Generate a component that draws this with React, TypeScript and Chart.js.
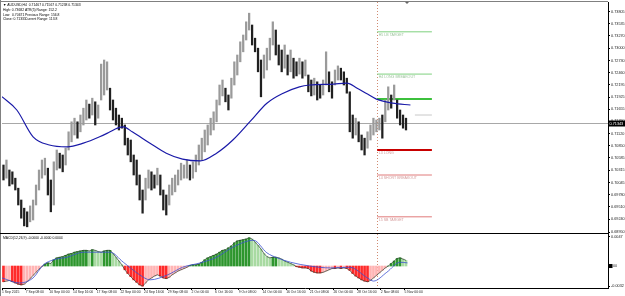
import React, { useEffect, useRef } from "react";
import { Chart, registerables } from "chart.js";
Chart.register(...registerables);

const FONT = "'Liberation Sans', Arial, sans-serif";

// ---- price data (2 H4 bars per element) ----
const candleHigh = [
  0.7043, 0.7054, 0.7032, 0.7028, 0.7014, 0.6992, 0.6966, 0.6948, 0.6940, 0.6953,
  0.6966, 0.6999, 0.7032, 0.7054, 0.7058, 0.7036, 0.7010, 0.7050, 0.7076, 0.7069,
  0.7065, 0.7080, 0.7116, 0.7138, 0.7146, 0.7138, 0.7153, 0.7168, 0.7186, 0.7177,
  0.7190, 0.7182, 0.7175, 0.7265, 0.7274, 0.7270, 0.7212, 0.7186, 0.7168, 0.7153,
  0.7146, 0.7131, 0.7102, 0.7098, 0.7065, 0.7054, 0.7021, 0.6988, 0.7014, 0.7032,
  0.7028, 0.7021, 0.7036, 0.7021, 0.6988, 0.6977, 0.6999, 0.7014, 0.7021, 0.7032,
  0.7047, 0.7043, 0.7054, 0.7043, 0.7050, 0.7065, 0.7087, 0.7102, 0.7120, 0.7131,
  0.7146, 0.7160, 0.7186, 0.7219, 0.7230, 0.7212, 0.7197, 0.7234, 0.7270, 0.7285,
  0.7314, 0.7329, 0.7358, 0.7377, 0.7351, 0.7322, 0.7300, 0.7274, 0.7285, 0.7300,
  0.7322, 0.7358, 0.7340, 0.7307, 0.7296, 0.7307, 0.7285, 0.7296, 0.7278, 0.7270,
  0.7278, 0.7270, 0.7274, 0.7241, 0.7230, 0.7234, 0.7226, 0.7219, 0.7230, 0.7292,
  0.7248, 0.7226, 0.7252, 0.7261, 0.7256, 0.7248, 0.7234, 0.7204, 0.7153, 0.7146,
  0.7138, 0.7109, 0.7102, 0.7116, 0.7131, 0.7146, 0.7142, 0.7146, 0.7153, 0.7186,
  0.7215, 0.7197, 0.7219, 0.7186, 0.7164, 0.7153, 0.7146,
];
const candleLow = [
  0.7010, 0.7014, 0.6997, 0.7001, 0.6988, 0.6955, 0.6926, 0.6909, 0.6907, 0.6918,
  0.6922, 0.6955, 0.6988, 0.7014, 0.7021, 0.6977, 0.6940, 0.6955, 0.7032, 0.7036,
  0.7028, 0.7043, 0.7076, 0.7094, 0.7109, 0.7102, 0.7116, 0.7131, 0.7142, 0.7146,
  0.7153, 0.7131, 0.7146, 0.7186, 0.7197, 0.7208, 0.7164, 0.7142, 0.7131, 0.7120,
  0.7124, 0.7087, 0.7065, 0.7050, 0.7021, 0.6999, 0.6966, 0.6937, 0.6966, 0.6992,
  0.6988, 0.6992, 0.6999, 0.6977, 0.6944, 0.6933, 0.6955, 0.6977, 0.6984, 0.6999,
  0.7010, 0.7014, 0.7014, 0.7010, 0.7014, 0.7028, 0.7043, 0.7054, 0.7072, 0.7087,
  0.7109, 0.7120, 0.7138, 0.7175, 0.7195, 0.7182, 0.7164, 0.7190, 0.7219, 0.7241,
  0.7270, 0.7292, 0.7318, 0.7340, 0.7307, 0.7292, 0.7248, 0.7193, 0.7234, 0.7252,
  0.7274, 0.7307, 0.7285, 0.7263, 0.7248, 0.7256, 0.7241, 0.7248, 0.7234, 0.7239,
  0.7243, 0.7234, 0.7239, 0.7204, 0.7195, 0.7197, 0.7186, 0.7190, 0.7197, 0.7219,
  0.7204, 0.7190, 0.7219, 0.7230, 0.7230, 0.7219, 0.7201, 0.7116, 0.7102, 0.7109,
  0.7094, 0.7076, 0.7065, 0.7080, 0.7098, 0.7109, 0.7116, 0.7120, 0.7102, 0.7138,
  0.7164, 0.7168, 0.7186, 0.7146, 0.7131, 0.7124, 0.7120,
];
const lastClose = 0.71343;

// ---- moving average ----
const maBars = [0, 10, 21, 32, 44, 55, 66, 73, 78, 82, 88, 100, 111, 122, 134, 145, 156, 168, 179, 190, 201, 208, 224, 233, 240, 247, 253, 264, 276];
const maValues = [0.7193, 0.7164, 0.7105, 0.7087, 0.7083, 0.7091, 0.7105, 0.7116, 0.7124, 0.7127, 0.7116, 0.7091, 0.7069, 0.7056, 0.7052, 0.7069, 0.7098, 0.7140, 0.7179, 0.7201, 0.7215, 0.7219, 0.7221, 0.7223, 0.7212, 0.7199, 0.7188, 0.7179, 0.7175];

// ---- camarilla levels ----
const pivotNames = ["H5 LB TARGET", "H4 LONG BREAKOUT", "", "", "L3 LONG", "L4 SHORT BREAKOUT", "L5 SB TARGET"];
const pivotValues = [0.7336, 0.7243, 0.7188, 0.7153, 0.7076, 0.7021, 0.6929];
const pivotStartBars = [253.5, 253.5, 253.5, 279, 253.5, 253.5, 253.5];
const pivotEndBar = 290.5;
const sessionBar = 253.5;

// ---- MACD ----
const macdHist = [
  -0.0025, -0.0024, -0.0023, -0.0025, -0.0027, -0.0029, -0.0030, -0.0029, -0.0025, -0.0020,
  -0.0015, -0.0010, -0.0005, -0.0001, 0.0003, 0.0005, 0.0004, 0.0010, 0.0013, 0.0014,
  0.0015, 0.0017, 0.0019, 0.0020, 0.0022, 0.0023, 0.0024, 0.0025, 0.0025, 0.0024,
  0.0026, 0.0025, 0.0023, 0.0022, 0.0024, 0.0025, 0.0025, 0.0020, 0.0014, 0.0008,
  0.0002, -0.0006, -0.0012, -0.0017, -0.0022, -0.0026, -0.0030, -0.0032, -0.0027, -0.0022,
  -0.0019, -0.0016, -0.0014, -0.0016, -0.0019, -0.0020, -0.0018, -0.0014, -0.0011, -0.0008,
  -0.0006, -0.0004, -0.0002, 0.0001, 0.0002, 0.0002, 0.0003, 0.0006, 0.0010, 0.0013,
  0.0015, 0.0017, 0.0019, 0.0022, 0.0025, 0.0026, 0.0029, 0.0032, 0.0037, 0.0040,
  0.0041, 0.0042, 0.0043, 0.0045, 0.0043, 0.0038, 0.0033, 0.0027, 0.0020, 0.0015,
  0.0013, 0.0014, 0.0014, 0.0013, 0.0011, 0.0008, 0.0006, 0.0004, 0.0002, -0.0001,
  -0.0002, -0.0003, -0.0003, -0.0004, -0.0008, -0.0010, -0.0011, -0.0011, -0.0010, -0.0008,
  -0.0006, -0.0004, -0.0004, -0.0003, -0.0004, -0.0003, -0.0004, -0.0007, -0.0012, -0.0016,
  -0.0019, -0.0022, -0.0024, -0.0025, -0.0023, -0.0019, -0.0015, -0.0011, -0.0007, -0.0003,
  0.0000, 0.0004, 0.0008, 0.0012, 0.0013, 0.0011, 0.0009,
];
const signalBars = [0, 12, 21, 28, 35, 44, 55, 66, 73, 82, 93, 100, 112, 122, 134, 145, 156, 170, 179, 186, 195, 208, 222, 235, 247, 251, 260, 269, 274];
const signalValues = [-0.0019, -0.0027, -0.0019, 0.0002, 0.0010, 0.0014, 0.0022, 0.0022, 0.0022, 0.0006, -0.0014, -0.0022, -0.0014, -0.0002, 0.0005, 0.0014, 0.0030, 0.0041, 0.0021, 0.0013, 0.0006, 0.0000, -0.0003, -0.0002, -0.0019, -0.0024, -0.0010, 0.0006, 0.0005];

// ---- axis labels ----
const priceTicks = [0.73805, 0.73535, 0.7327, 0.73, 0.7273, 0.7246, 0.72195, 0.71925, 0.71655, 0.7139, 0.7112, 0.7085, 0.70585, 0.70315, 0.70045, 0.6978, 0.6951, 0.6924, 0.6895];
const macdTicks = [0.0047, -0.0032];
const timeLabels = ["1 Sep 2015", "7 Sep 08:00", "10 Sep 00:00", "14 Sep 16:00", "17 Sep 08:00", "22 Sep 00:00", "24 Sep 16:00", "29 Sep 08:00", "2 Oct 00:00", "6 Oct 16:00", "9 Oct 08:00", "14 Oct 00:00", "16 Oct 16:00", "21 Oct 08:00", "26 Oct 00:00", "28 Oct 16:00", "2 Nov 08:00", "5 Nov 00:00"];
const headerTitle = "▼ AUDUSD,H4  0.71467 0.71567 0.71238 0.71343";
const headerLeft = ["High: 0.73682", "Low:  0.70671", "Close: 0.71331"];
const headerRight = ["ATR(5) Range: 152.2", "Previous Range: 156.8", "Current Range: 113.8"];
const macdTitle = "MACD(12,26,9) -0.0000 -0.0000 0.0004";

const X_MAX = 409.5;

export default function App() {
  const mainRef = useRef<HTMLCanvasElement>(null);
  const macdRef = useRef<HTMLCanvasElement>(null);

  useEffect(() => {
    const candleColors = candleHigh.map((h, i) => {
      if (i === 0) return "#202020";
      const m = (h + candleLow[i]) / 2;
      const p = (candleHigh[i - 1] + candleLow[i - 1]) / 2;
      return m >= p ? "#9a9a9a" : "#202020";
    });
    const pivotColors = ["#7ed07e", "#7ed07e", "#3cc03c", "#c8c8c8", "#c80000", "#e07a7a", "#e07a7a"];
    const pivotWidths = [1, 1, 2, 1, 2, 1, 1];
    const pivotText = ["#9cc49c", "#9cc49c", "", "", "#d49a9a", "#d49a9a", "#d49a9a"];

    const mainDecor = {
      id: "mainDecor",
      beforeDatasetsDraw(chart: any) {
        const { ctx, chartArea: a, scales } = chart;
        const x = scales.x, y = scales.y;
        ctx.save();
        const yc = Math.round(y.getPixelForValue(lastClose)) + 0.5;
        ctx.strokeStyle = "#a8a8a8";
        ctx.lineWidth = 1;
        ctx.beginPath();
        ctx.moveTo(a.left, yc);
        ctx.lineTo(a.right, yc);
        ctx.stroke();
        const xs = Math.round(x.getPixelForValue(sessionBar)) + 0.5;
        ctx.strokeStyle = "#d08a70";
        ctx.setLineDash([1, 2]);
        ctx.beginPath();
        ctx.moveTo(xs, a.top);
        ctx.lineTo(xs, a.bottom);
        ctx.stroke();
        ctx.restore();
      },
      afterDraw(chart: any) {
        const { ctx, chartArea: a, scales } = chart;
        const x = scales.x, y = scales.y;
        ctx.save();
        ctx.font = `3.6px ${FONT}`;
        ctx.textAlign = "left";
        ctx.textBaseline = "top";
        pivotNames.forEach((n, k) => {
          if (!n) return;
          ctx.fillStyle = pivotText[k];
          ctx.fillText(n, x.getPixelForValue(pivotStartBars[k]) + 1.5, y.getPixelForValue(pivotValues[k]) + 1.5);
        });
        ctx.fillStyle = "#000";
        ctx.textBaseline = "middle";
        ctx.font = `3.4px ${FONT}`;
        ctx.fillText(headerTitle, 3, 5);
        headerLeft.forEach((t, k) => ctx.fillText(t, 3, 10 + k * 4.6));
        headerRight.forEach((t, k) => ctx.fillText(t, 25, 10 + k * 4.6));
        // borders
        ctx.strokeStyle = "#808080";
        ctx.lineWidth = 1;
        ctx.beginPath();
        ctx.moveTo(0, 1.5);
        ctx.lineTo(a.right, 1.5);
        ctx.moveTo(0.5, 0);
        ctx.lineTo(0.5, chart.height);
        ctx.stroke();
        ctx.strokeStyle = "#000";
        ctx.beginPath();
        ctx.moveTo(0, chart.height - 0.5);
        ctx.lineTo(a.right, chart.height - 0.5);
        ctx.stroke();
        // shift marker
        ctx.fillStyle = "#666";
        ctx.beginPath();
        ctx.moveTo(405, 2);
        ctx.lineTo(409, 2);
        ctx.lineTo(407, 4);
        ctx.closePath();
        ctx.fill();
        // price box
        const yc = y.getPixelForValue(lastClose);
        ctx.font = `3.8px ${FONT}`;
        ctx.fillStyle = "#000";
        ctx.fillRect(a.right, yc - 3, 17, 6);
        ctx.fillStyle = "#fff";
        ctx.fillText(lastClose.toFixed(5), a.right + 1.5, yc + 0.3);
        ctx.restore();
      },
    };

    const main = new Chart(mainRef.current!, {
      type: "bar",
      data: {
        datasets: [
          ...pivotValues.map((v, k) => ({
            type: "line" as const,
            data: [{ x: pivotStartBars[k], y: v }, { x: pivotEndBar, y: v }],
            borderColor: pivotColors[k],
            borderWidth: pivotWidths[k],
            pointRadius: 0,
            order: 3,
          })),
          {
            type: "bar" as const,
            data: candleHigh.map((h, i) => ({ x: 2 * i + 1, y: [candleLow[i], h] })) as any,
            backgroundColor: candleColors,
            borderWidth: 0,
            barThickness: 1.6,
            grouped: false,
            order: 2,
          },
          {
            type: "line" as const,
            data: maBars.map((b, i) => ({ x: b, y: maValues[i] })),
            borderColor: "#1a1aa8",
            borderWidth: 1.2,
            pointRadius: 0,
            cubicInterpolationMode: "monotone",
            order: 1,
          },
        ] as any,
      },
      options: {
        animation: false,
        responsive: false,
        devicePixelRatio: 1,
        layout: { padding: { left: 2, top: 2, right: 0, bottom: 0 } },
        plugins: { legend: { display: false }, tooltip: { enabled: false } },
        scales: {
          x: { type: "linear", min: 0, max: X_MAX, display: false, offset: false, grid: { offset: false } },
          y: {
            position: "right",
            min: 0.68912,
            max: 0.74016,
            beginAtZero: false,
            grid: { display: true, drawOnChartArea: false, tickLength: 2, color: "#000" },
            border: { display: true, color: "#000" },
            ticks: {
              autoSkip: false,
              font: { size: 3.8, family: FONT },
              color: "#222",
              padding: 1,
              callback: (v: any) => Number(v).toFixed(5),
            },
            afterBuildTicks: (s: any) => {
              s.ticks = priceTicks.map((v) => ({ value: v }));
            },
            afterFit: (s: any) => {
              s.width = 17;
              s.paddingTop = 0;
              s.paddingBottom = 0;
            },
          },
        },
      } as any,
      plugins: [mainDecor],
    });

    const histColors = macdHist.map((v, i) => {
      const p = i === 0 ? v : macdHist[i - 1];
      if (v >= 0) return v >= p ? "#2e962e" : "#a8daa2";
      return v <= p ? "#ff2a2a" : "#ffb4b4";
    });

    const macdDecor = {
      id: "macdDecor",
      beforeDatasetsDraw(chart: any) {
        const { ctx, chartArea: a, scales } = chart;
        ctx.save();
        const xs = Math.round(scales.x.getPixelForValue(sessionBar)) + 0.5;
        ctx.strokeStyle = "#d08a70";
        ctx.setLineDash([1, 2]);
        ctx.beginPath();
        ctx.moveTo(xs, a.top);
        ctx.lineTo(xs, a.bottom);
        ctx.stroke();
        ctx.restore();
      },
      afterDraw(chart: any) {
        const { ctx, chartArea: a, scales } = chart;
        ctx.save();
        ctx.font = `3.4px ${FONT}`;
        ctx.textAlign = "left";
        ctx.textBaseline = "middle";
        ctx.fillStyle = "#000";
        ctx.fillText(macdTitle, 3, 4);
        ctx.strokeStyle = "#808080";
        ctx.lineWidth = 1;
        ctx.beginPath();
        ctx.moveTo(0.5, 0);
        ctx.lineTo(0.5, chart.height);
        ctx.stroke();
        const y0 = scales.y.getPixelForValue(0);
        ctx.fillStyle = "#000";
        ctx.fillRect(a.right + 1, y0 - 2, 3.5, 4);
        ctx.fillStyle = "#333";
        ctx.font = `3.8px ${FONT}`;
        ctx.fillText("00", a.right + 5, y0 + 0.3);
        ctx.restore();
      },
    };

    const macd = new Chart(macdRef.current!, {
      type: "bar",
      data: {
        datasets: [
          {
            type: "bar" as const,
            data: macdHist.map((v, i) => ({ x: 2 * i + 1, y: v })),
            backgroundColor: histColors,
            borderWidth: 0,
            barThickness: 2,
            grouped: false,
            order: 3,
          },
          {
            type: "line" as const,
            data: macdHist.map((v, i) => ({ x: 2 * i + 1, y: v })),
            borderColor: "#2a3a2a",
            borderWidth: 0.7,
            pointRadius: 0,
            order: 2,
          },
          {
            type: "line" as const,
            data: signalBars.map((b, i) => ({ x: b, y: signalValues[i] })),
            borderColor: "#3a4fd0",
            borderWidth: 0.8,
            pointRadius: 0,
            cubicInterpolationMode: "monotone",
            order: 1,
          },
        ] as any,
      },
      options: {
        animation: false,
        responsive: false,
        devicePixelRatio: 1,
        layout: { padding: { left: 2, top: 0, right: 0, bottom: 0 } },
        plugins: { legend: { display: false }, tooltip: { enabled: false } },
        scales: {
          x: {
            type: "linear",
            min: 0,
            max: X_MAX,
            offset: false,
            grid: { display: true, drawOnChartArea: false, tickLength: 2, color: "#000", offset: false },
            border: { display: true, color: "#000" },
            ticks: {
              autoSkip: false,
              maxRotation: 0,
              align: "start",
              padding: 0.5,
              font: { size: 3.4, family: FONT },
              color: "#222",
              callback: (_v: any, idx: number) => timeLabels[idx],
            },
            afterBuildTicks: (s: any) => {
              s.ticks = timeLabels.map((_, k) => ({ value: k * 16 }));
            },
            afterFit: (s: any) => {
              s.height = 8;
              s.paddingLeft = 0;
              s.paddingRight = 0;
            },
          },
          y: {
            position: "right",
            min: -0.0035,
            max: 0.0051,
            beginAtZero: false,
            grid: { display: true, drawOnChartArea: false, tickLength: 2, color: "#000" },
            border: { display: true, color: "#000" },
            ticks: {
              autoSkip: false,
              font: { size: 3.8, family: FONT },
              color: "#222",
              padding: 1,
              callback: (v: any) => Number(v).toFixed(4),
            },
            afterBuildTicks: (s: any) => {
              s.ticks = macdTicks.map((v) => ({ value: v }));
            },
            afterFit: (s: any) => {
              s.width = 17;
              s.paddingTop = 0;
              s.paddingBottom = 0;
            },
          },
        },
      } as any,
      plugins: [macdDecor],
    });

    return () => {
      main.destroy();
      macd.destroy();
    };
  }, []);

  return (
    <div style={{ position: "absolute", left: 0, top: 0, width: 625, height: 296, background: "#fff", overflow: "hidden" }}>
      <canvas ref={mainRef} width={625} height={234} style={{ position: "absolute", left: 0, top: 0, width: 625, height: 234 }} />
      <canvas ref={macdRef} width={625} height={62} style={{ position: "absolute", left: 0, top: 234, width: 625, height: 62 }} />
    </div>
  );
}
